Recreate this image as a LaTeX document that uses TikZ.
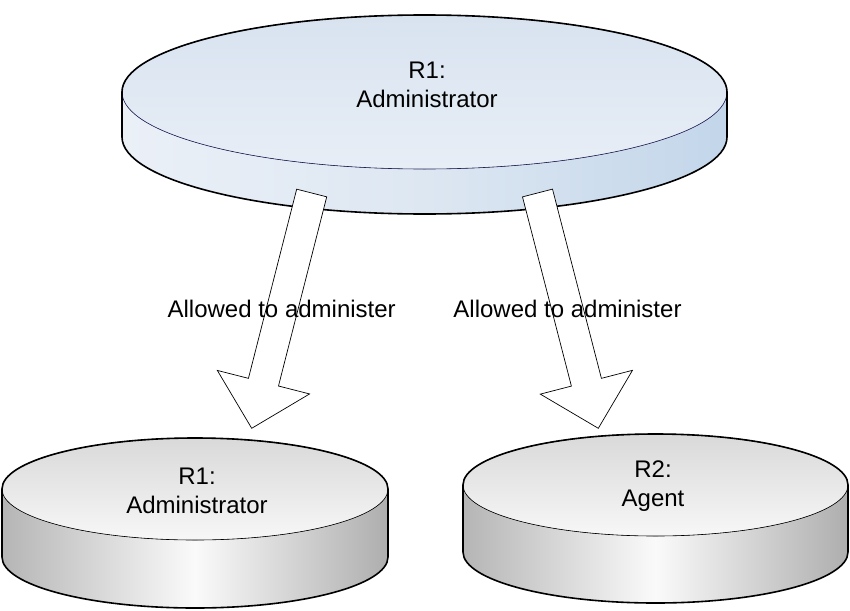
\documentclass[tikz,border=0pt]{standalone}
\usepackage{fontspec}
\setmainfont{Liberation Sans}
\usetikzlibrary{calc}

\definecolor{faceTop}{HTML}{D8E3F0}
\definecolor{faceBot}{HTML}{E8EEF6}
\definecolor{sideL}{HTML}{EBF0F7}
\definecolor{sideM}{HTML}{DDE7F2}
\definecolor{sideR}{HTML}{C3D6EA}
\definecolor{rimNavy}{HTML}{22225A}
\definecolor{greyTop}{HTML}{D9D9D9}
\definecolor{greyBot}{HTML}{F7F7F7}
\definecolor{greyL}{HTML}{B5B5B5}
\definecolor{greyM}{HTML}{FAFAFA}
\definecolor{greyR}{HTML}{AEAEAE}

% #1/#2 centre of top face, #3/#4 radii, #5 depth, #6 face style, #7 side style
\newcommand{\drum}[7]{%
  \fill[#7] (#1-#3,#2) -- ++(0,-#5)
    arc[start angle=180,end angle=360,x radius=#3,y radius=#4] -- ++(0,#5)
    arc[start angle=0,end angle=-180,x radius=#3,y radius=#4] -- cycle;
  \filldraw[#6] (#1,#2) ellipse[x radius=#3,y radius=#4];
  \draw[rim] (#1-#3,#2) arc[start angle=180,end angle=0,x radius=#3,y radius=#4]
    -- ++(0,-#5) arc[start angle=0,end angle=-180,x radius=#3,y radius=#4] -- cycle;
}
% hollow block arrow from #1 to #2
\newcommand{\blockarrow}[2]{%
  \coordinate (#1 base) at ($(#2)!47.6pt!(#1)$);
  \filldraw[hollow] ($(#1)!15.5pt!90:(#2)$) -- ($(#1 base)!15.5pt!-90:(#1)$)
    -- ($(#1 base)!47.6pt!-90:(#1)$) -- (#2) -- ($(#1 base)!47.6pt!90:(#1)$)
    -- ($(#1 base)!15.5pt!90:(#1)$) -- ($(#1)!15.5pt!-90:(#2)$) -- cycle;
}

\begin{document}
\begin{tikzpicture}[x=1pt,y=1pt,
    rim/.style={line width=1.6pt,line join=round},
    blueface/.style={top color=faceTop,bottom color=faceBot,draw=rimNavy,line width=0.6pt},
    blueside/.style={left color=sideL,right color=sideR,middle color=sideM},
    greyface/.style={top color=greyTop,bottom color=greyBot,draw=black,line width=0.6pt},
    greyside/.style={left color=greyL,right color=greyR,middle color=greyM},
    hollow/.style={fill=white,draw=black,line width=0.7pt,line join=miter},
    role/.style={align=center,inner sep=0pt,font={\fontsize{24}{29}\selectfont}},
    note/.style={inner sep=0pt,font={\fontsize{24}{29}\selectfont}}]
  \useasboundingbox[fill=white] (0,0) rectangle (850,-610);

  % roles
  \drum{424.5}{-92}{302.5}{77}{45}{blueface}{blueside}
  \drum{195}{-489}{193}{51}{68}{greyface}{greyside}
  \drum{655.5}{-485}{192.5}{51}{67}{greyface}{greyside}

  \node[role] (admin) at (427,-84.5) {R1:\\Administrator};
  \node[role] (adminR1) at (197,-490.7) {R1:\\Administrator};
  \node[role] (agentR2) at (653,-485.9) {R2:\\Agent};

  % allowed to administer
  \coordinate (tailL) at (311.7,-193);
  \coordinate (tipL) at (251.7,-428.3);
  \coordinate (tailR) at (537.5,-193);
  \coordinate (tipR) at (598.3,-428.3);
  \blockarrow{tailL}{tipL}
  \blockarrow{tailR}{tipR}

  \node[note] (allowL) at (281.7,-308.6) {Allowed to administer};
  \node[note] (allowR) at (567.5,-308.6) {Allowed to administer};
\end{tikzpicture}
\end{document}
